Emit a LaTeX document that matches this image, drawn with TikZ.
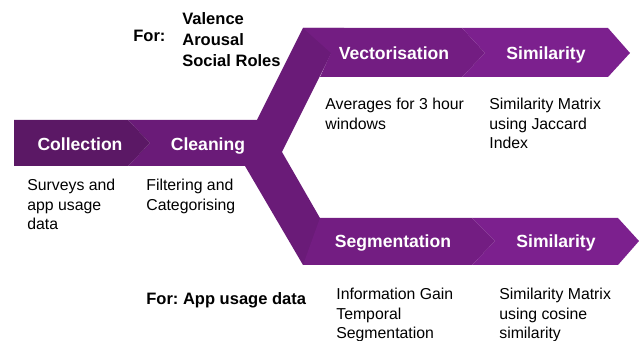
\documentclass[tikz,border=0pt]{standalone}
\usepackage{fontspec}
\setmainfont{Liberation Sans}
\usepackage{tikz}
\frenchspacing

\definecolor{collectcol}{HTML}{5B1865}
\definecolor{cleancol}{HTML}{6A1B78}
\definecolor{vectorcol}{HTML}{731D82}
\definecolor{simcol}{HTML}{7C208E}

\tikzset{
	steplabel/.style={white, anchor=base, inner sep=0pt, font=\fontsize{10}{12}\selectfont\bfseries},
	steptext/.style={black, anchor=north west, inner sep=0pt, align=left, font=\fontsize{9}{11.1}\selectfont},
	fortext/.style={black, inner sep=0pt, align=left, font=\fontsize{9.4}{11.9}\selectfont\bfseries}
}

\begin{document}
\begin{tikzpicture}
		\useasboundingbox (0.00,0.00) rectangle (12.78,-6.82);
		% cleaning with the two arms
		\fill[cleancol] (2.56,-2.40) -- (5.14,-2.40) -- (6.06,-0.56) -- (6.88,-0.56) -- (5.64,-3.04) -- (6.94,-5.30) -- (6.06,-5.30) -- (4.90,-3.32) -- (2.56,-3.32) -- (3.00,-2.86) -- cycle;
		\fill[collectcol] (0.28,-2.40) -- (2.56,-2.40) -- (3.00,-2.86) -- (2.56,-3.32) -- (0.28,-3.32) -- cycle;
		% upper branch
		\fill[vectorcol] (6.06,-0.56) -- (9.24,-0.56) -- (9.70,-1.06) -- (9.24,-1.54) -- (6.40,-1.54) -- (6.62,-1.06) -- cycle;
		\fill[simcol] (9.24,-0.56) -- (12.16,-0.56) -- (12.60,-1.06) -- (12.16,-1.54) -- (9.24,-1.54) -- (9.70,-1.06) -- cycle;
		% lower branch
		\fill[vectorcol] (6.40,-4.36) -- (9.44,-4.36) -- (9.90,-4.82) -- (9.44,-5.30) -- (6.06,-5.30) -- cycle;
		\fill[simcol] (9.44,-4.36) -- (12.36,-4.36) -- (12.78,-4.82) -- (12.36,-5.30) -- (9.44,-5.30) -- (9.90,-4.82) -- cycle;

		\node[steplabel] (collection) at (1.60,-3.01) {Collection};
		\node[steplabel] (cleaning) at (4.16,-3.01) {Cleaning};
		\node[steplabel] (vector) at (7.88,-1.20) {Vectorisation};
		\node[steplabel] (simup) at (10.92,-1.20) {Similarity};
		\node[steplabel] (segment) at (7.86,-4.96) {Segmentation};
		\node[steplabel] (simdown) at (11.12,-4.96) {Similarity};

		\node[steptext] (collectiontxt) at (0.54,-3.58) {Surveys and\\app usage\\data};
		\node[steptext] (cleaningtxt) at (2.92,-3.58) {Filtering and\\Categorising};
		\node[steptext] (vectortxt) at (6.50,-1.96) {Averages for 3 hour\\windows};
		\node[steptext] (simuptxt) at (9.78,-1.96) {Similarity Matrix\\using Jaccard\\Index};
		\node[steptext] (segmenttxt) at (6.72,-5.76) {Information Gain\\Temporal\\Segmentation};
		\node[steptext] (simdowntxt) at (9.98,-5.76) {Similarity Matrix\\using cosine\\similarity};

		\node[fortext, anchor=base west] (forup) at (2.66,-0.84) {For:};
		\node[fortext, anchor=north west] (forlist) at (3.64,-0.24) {Valence\\Arousal\\Social Roles};
		\node[fortext, anchor=base west] (fordown) at (2.92,-6.10) {For: App usage data};
	\end{tikzpicture}
\end{document}
